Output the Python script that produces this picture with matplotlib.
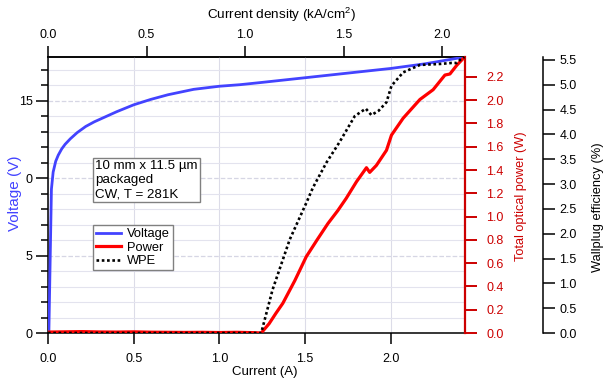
"""
LIV curve of a packaged laser bar: voltage, optical power and wallplug efficiency
"""

import matplotlib
matplotlib.use('Agg')
import matplotlib.pyplot as plt
from matplotlib.ticker import MultipleLocator, FixedLocator, FixedFormatter, FormatStrFormatter

plt.rcParams['font.family'] = ['Liberation Sans', 'DejaVu Sans']
plt.rcParams['mathtext.fontset'] = 'custom'
plt.rcParams['mathtext.rm'] = 'Liberation Sans'
plt.rcParams['font.size'] = 9

# Voltage (V) vs current (A)
volt_current = [0.0, 0.005, 0.02, 0.03, 0.045, 0.06, 0.08, 0.10, 0.13, 0.17, 0.22, 0.27,
                0.33, 0.40, 0.50, 0.60, 0.70, 0.85, 1.00, 1.12, 1.25, 1.50, 1.75, 2.00,
                2.20, 2.43]
voltage = [0.0, 0.0, 9.3, 10.4, 11.1, 11.5, 11.9, 12.2, 12.55, 12.95, 13.35, 13.65,
           13.95, 14.3, 14.75, 15.1, 15.4, 15.75, 15.95, 16.05, 16.2, 16.5, 16.8, 17.1,
           17.4, 17.84]

# Total optical power (W) vs current (A)
power_current = [0.0, 0.1, 0.2, 0.3, 0.4, 0.5, 0.6, 0.7, 0.8, 0.9, 1.0, 1.1, 1.2, 1.244,
                 1.29, 1.33, 1.37, 1.44, 1.507, 1.57, 1.633, 1.69, 1.74, 1.80, 1.858, 1.877,
                 1.916, 1.975, 2.004, 2.072, 2.17, 2.247, 2.316, 2.345, 2.385, 2.43]
power = [0.008, 0.01, 0.012, 0.009, 0.008, 0.01, 0.007, 0.006, 0.005, 0.006, 0.004, 0.006,
         0.003, 0.0, 0.08, 0.17, 0.255, 0.45, 0.656, 0.80, 0.94, 1.05, 1.157, 1.30, 1.42,
         1.38, 1.44, 1.57, 1.70, 1.845, 2.006, 2.09, 2.216, 2.225, 2.30, 2.37]

# Wallplug efficiency (%) vs current (A)
wpe_current = [0.0, 0.2, 0.4, 0.6, 0.8, 1.0, 1.2, 1.244, 1.31, 1.41, 1.507, 1.546, 1.624,
               1.70, 1.79, 1.854, 1.887, 1.93, 1.975, 2.004, 2.072, 2.17, 2.287, 2.355,
               2.385, 2.41, 2.43]
wpe = [0.0, 0.0, 0.0, 0.0, 0.0, 0.0, 0.0, 0.0, 0.87, 1.88, 2.62, 2.93, 3.43,
       3.84, 4.37, 4.52, 4.39, 4.48, 4.65, 4.98, 5.25, 5.40, 5.42, 5.44,
       5.44, 5.52, 5.56]

# kA/cm^2 per A for a 10 mm x 11.5 um stripe
J_PER_A = 0.87

BLUE = '#4343ff'
RED = '#ff0000'
DARK_RED = '#cc0000'
GRID = '#e3e3ee'

fig = plt.figure(figsize=(6.03, 3.79), dpi=100)
ax = fig.add_axes([48 / 603, 1 - 333 / 379, 417 / 603, 276 / 379])

# Voltage (host axis)
l_v, = ax.plot(volt_current, voltage, color=BLUE, lw=2.0, label='Voltage', zorder=3)
ax.set_xlim(0, 2.433)
ax.set_ylim(0, 17.84)
ax.yaxis.set_major_locator(FixedLocator([0, 5, 10, 15]))
ax.yaxis.set_major_formatter(FixedFormatter(['0', '5', '0', '15']))
ax.yaxis.set_minor_locator(MultipleLocator(1))
ax.xaxis.set_major_locator(MultipleLocator(0.5))
ax.xaxis.set_major_formatter(FormatStrFormatter('%.1f'))
ax.tick_params(axis='y', which='major', direction='out', length=8.4, width=1.1, pad=2.5)
ax.tick_params(axis='y', which='minor', direction='out', length=5, width=1.1)
ax.tick_params(axis='x', direction='out', length=8, width=1.1, pad=6.3)
for s in ax.spines.values():
    s.set_linewidth(1.1)
ax.spines['right'].set_visible(False)

ax.grid(True, axis='y', which='minor', color=GRID, lw=0.8)
ax.grid(True, axis='y', which='major', color='#d6d6e4', lw=0.9, linestyle='--')
ax.grid(True, axis='x', which='major', color='#dcdce8', lw=0.8)
ax.set_axisbelow(True)

ax.set_ylabel('Voltage (V)', color=BLUE, fontsize=11)
ax.yaxis.set_label_coords(-0.062, 0.507)
ax.set_xlabel('Current (A)', fontsize=9.5)
ax.xaxis.set_label_coords(0.519, -0.118)

# Top axis: current density
sec = ax.secondary_xaxis('top', functions=(lambda i: i * J_PER_A, lambda j: j / J_PER_A))
sec.set_xticks([0.0, 0.5, 1.0, 1.5, 2.0])
sec.xaxis.set_major_formatter(FormatStrFormatter('%.1f'))
sec.tick_params(direction='out', length=8, width=1.1, pad=3.2)
sec.spines['top'].set_linewidth(1.1)
sec.set_xlabel('Current density (kA/cm$^2$)', fontsize=9.7)
sec.xaxis.set_label_coords(0.559, 1.136, transform=ax.transAxes)

# Optical power
ax_p = ax.twinx()
l_p, = ax_p.plot(power_current, power, color=RED, lw=2.3, label='Power', zorder=3)
ax_p.set_ylim(0, 2.371)
ax_p.yaxis.set_major_locator(MultipleLocator(0.2))
ax_p.yaxis.set_major_formatter(FormatStrFormatter('%.1f'))
ax_p.tick_params(axis='y', direction='out', length=8.4, width=1.4, pad=7,
                 colors=DARK_RED, labelcolor=DARK_RED)
for side in ['left', 'top', 'bottom']:
    ax_p.spines[side].set_visible(False)
ax_p.spines['right'].set_color(DARK_RED)
ax_p.spines['right'].set_linewidth(1.6)
ax_p.set_ylabel('Total optical power (W)', color=DARK_RED, fontsize=9.2)
ax_p.yaxis.set_label_coords(1.12, 0.496)

# Wallplug efficiency
ax_w = ax.twinx()
l_w, = ax_w.plot(wpe_current, wpe, color='black', lw=1.9, linestyle=(0, (1, 1)),
                 label='WPE', zorder=4)
ax_w.set_ylim(0, 5.56)
ax_w.yaxis.set_major_locator(MultipleLocator(0.5))
ax_w.yaxis.set_major_formatter(FormatStrFormatter('%.1f'))
ax_w.spines['right'].set_position(('axes', 495 / 417))
for side in ['left', 'top', 'bottom']:
    ax_w.spines[side].set_visible(False)
ax_w.spines['right'].set_linewidth(1.1)
ax_w.tick_params(axis='y', direction='out', length=8.4, width=1.1, pad=3.5)
ax_w.set_ylabel('Wallplug efficiency (%)', fontsize=9.3)
ax_w.yaxis.set_label_coords(1.305, 0.457)

# Annotation and legend
ax_w.text(0.113, 0.625, '10 mm x 11.5 \u00b5m\npackaged\nCW, T = 281K',
          transform=ax_w.transAxes, ha='left', va='top', linespacing=1.2, zorder=6,
          fontsize=9.6,
          bbox=dict(boxstyle='square,pad=0.15', fc='white', ec='#808080', lw=1))

leg = ax_w.legend(handles=[l_v, l_p, l_w], loc='upper left', bbox_to_anchor=(0.108, 0.391),
                  borderaxespad=0, frameon=True, fancybox=False, framealpha=1,
                  edgecolor='#808080', handlelength=1.9, handletextpad=0.45,
                  labelspacing=0.1, borderpad=0.25, prop={'size': 9.3})
leg.get_frame().set_linewidth(1)
leg.set_zorder(6)

fig.savefig('out.png', dpi=100, facecolor='white')
